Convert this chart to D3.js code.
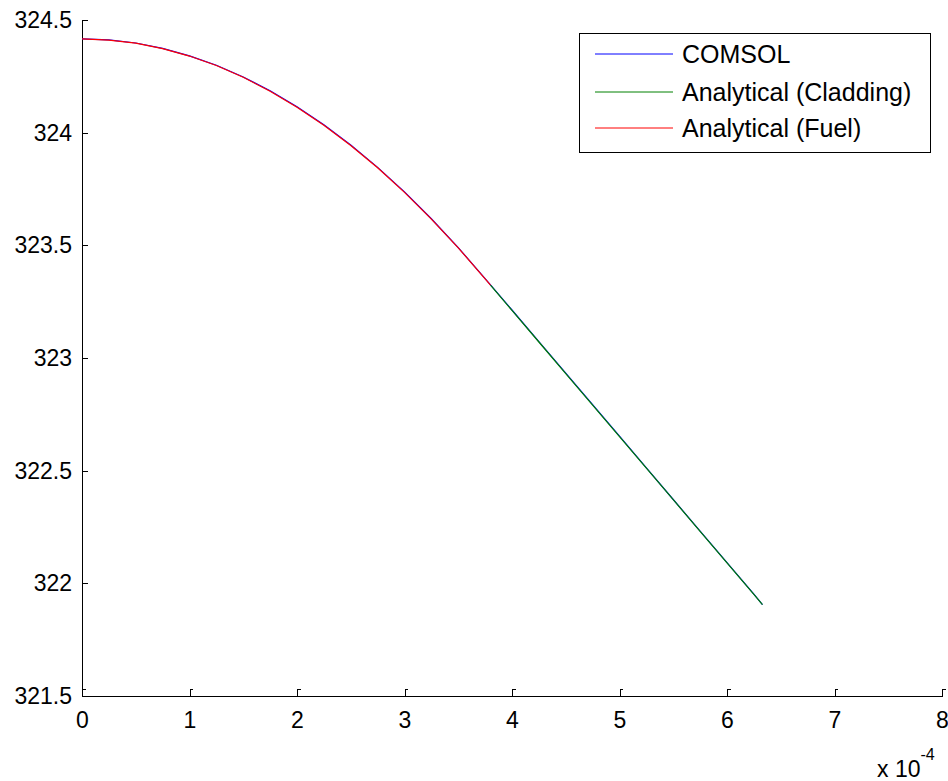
<!DOCTYPE html>
<html>
<head>
<meta charset="utf-8">
<script src="https://cdn.jsdelivr.net/npm/d3@7"></script>
<style>
  body { margin: 0; background: #fff; }
  svg { display: block; font-family: 'Liberation Sans', Arial, sans-serif; }
</style>
</head>
<body>
<svg id="chart" width="948" height="781"></svg>
<script>
// radius in units of 1e-4 m, temperature in K
let fuelR = [0, 0.25, 0.5, 0.75, 1.0, 1.25, 1.5, 1.75, 2.0, 2.25, 2.5, 2.75, 3.0, 3.25, 3.5, 3.75, 3.8];
let fuelT = [324.416, 324.411, 324.397, 324.373, 324.340, 324.298, 324.246, 324.184, 324.113,
             324.033, 323.943, 323.844, 323.735, 323.616, 323.489, 323.351, 323.323];

let cladR = [3.8, 4.0, 4.25, 4.5, 4.75, 5.0, 5.25, 5.5, 5.75, 6.0, 6.25, 6.33];
let cladT = [323.323, 323.211, 323.071, 322.931, 322.791, 322.651, 322.511, 322.371, 322.231, 322.091, 321.951, 321.906];

let comsolR = [0, 0.25, 0.5, 0.75, 1.0, 1.25, 1.5, 1.75, 2.0, 2.25, 2.5, 2.75, 3.0, 3.25, 3.5, 3.75,
               4.0, 4.25, 4.5, 4.75, 5.0, 5.25, 5.5, 5.75, 6.0, 6.25, 6.33];
let comsolT = [324.416, 324.412, 324.398, 324.374, 324.341, 324.299, 324.247, 324.186, 324.115,
               324.035, 323.945, 323.846, 323.737, 323.618, 323.490, 323.352,
               323.213, 323.073, 322.933, 322.793, 322.653, 322.512, 322.372, 322.232, 322.092, 321.952, 321.906];

let xTicks = [0, 1, 2, 3, 4, 5, 6, 7, 8];
let yTicks = [321.5, 322, 322.5, 323, 323.5, 324, 324.5];

let seriesNames = ['COMSOL', 'Analytical (Cladding)', 'Analytical (Fuel)'];
let seriesColors = ['#0000ff', '#008000', '#ff0000'];

let svg = d3.select('#chart');

const plotLeft = 82, plotRight = 942, plotTop = 20, plotBottom = 696;

let x = d3.scaleLinear().domain([0, 8]).range([plotLeft, plotRight]);
let y = d3.scaleLinear().domain([321.5, 324.5]).range([plotBottom, plotTop]);

// axes (only left and bottom, ticks pointing inward)
let yAxis = svg.append('g')
  .attr('transform', `translate(${plotLeft},0)`)
  .call(d3.axisLeft(y).tickValues(yTicks).tickSize(-6).tickSizeOuter(0).tickPadding(10)
    .tickFormat(d => String(d)));

let xAxis = svg.append('g')
  .attr('transform', `translate(0,${plotBottom})`)
  .call(d3.axisBottom(x).tickValues(xTicks).tickSize(-7).tickSizeOuter(0).tickPadding(16)
    .tickFormat(d => String(d)));

[xAxis, yAxis].forEach(a => {
  a.selectAll('path, line').attr('stroke', '#000').attr('shape-rendering', 'crispEdges');
  a.selectAll('text').attr('fill', '#000').style('font-size', '23px');
});

// little nubs at the tick ends
xAxis.selectAll('.tick').append('line')
  .attr('x1', 0).attr('x2', 3).attr('y1', -7).attr('y2', -7)
  .attr('stroke', '#000').attr('shape-rendering', 'crispEdges');

// exponent label
let expLabel = svg.append('text')
  .attr('x', 877)
  .attr('y', 777)
  .style('font-size', '23px')
  .text('x 10');
expLabel.append('tspan')
  .attr('dy', -17)
  .style('font-size', '16px')
  .text('-4');

// lines
let line = d3.line()
  .x(d => x(d[0]))
  .y(d => y(d[1]));

let plotData = [
  d3.zip(comsolR, comsolT),
  d3.zip(cladR, cladT),
  d3.zip(fuelR, fuelT)
];

svg.append('g').selectAll('path')
  .data(plotData)
  .enter()
  .append('path')
  .attr('d', line)
  .attr('fill', 'none')
  .attr('stroke', (d, i) => seriesColors[i])
  .attr('stroke-width', 1.2);

// legend
let legend = svg.append('g');

legend.append('rect')
  .attr('x', 579).attr('y', 33)
  .attr('width', 351).attr('height', 119)
  .attr('fill', '#fff')
  .attr('stroke', '#000')
  .attr('shape-rendering', 'crispEdges');

let legendY = [54, 92, 128];

let entry = legend.selectAll('g.entry')
  .data(seriesNames)
  .enter()
  .append('g')
  .attr('class', 'entry')
  .attr('transform', (d, i) => `translate(0,${legendY[i]})`);

entry.append('line')
  .attr('x1', 595).attr('x2', 673)
  .attr('stroke', (d, i) => seriesColors[i])
  .attr('stroke-width', 1);

entry.append('text')
  .attr('x', 682)
  .attr('dy', '0.35em')
  .style('font-size', '25px')
  .text(d => d);
</script>
</body>
</html>
